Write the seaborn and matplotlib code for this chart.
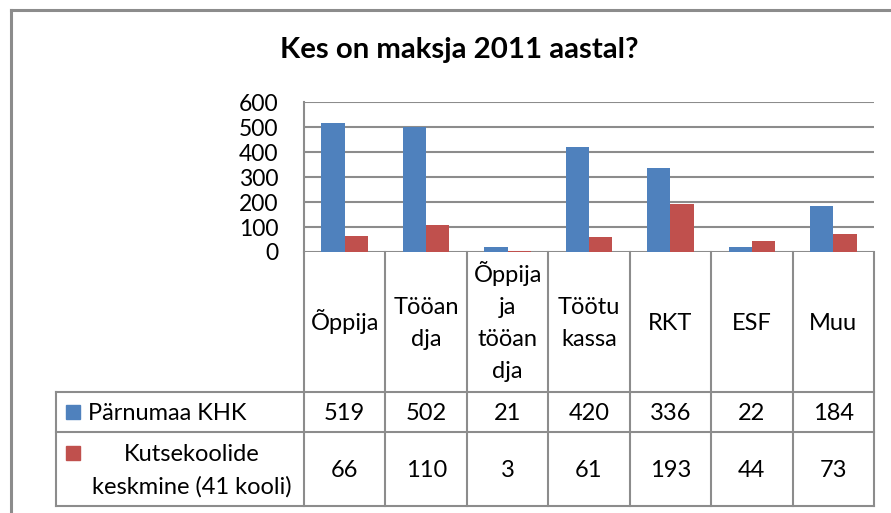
import matplotlib
matplotlib.use("Agg")
import matplotlib.pyplot as plt
import seaborn as sns
import pandas as pd
from matplotlib.lines import Line2D
from matplotlib.patches import Rectangle

# ---- data ----
categories = ["Õppija", "Tööandja", "Õppija ja tööandja", "Töötukassa", "RKT", "ESF", "Muu"]
category_labels = ["Õppija", "Tööan\ndja", "Õppija\nja\ntööan\ndja", "Töötu\nkassa", "RKT", "ESF", "Muu"]
series_names = ["Pärnumaa KHK", "Kutsekoolide keskmine (41 kooli)"]
series_labels = ["Pärnumaa KHK", "Kutsekoolide\nkeskmine (41 kooli)"]
parnumaa = [519, 502, 21, 420, 336, 22, 184]
keskmine = [66, 110, 3, 61, 193, 44, 73]
y_ticks = [0, 100, 200, 300, 400, 500, 600]
title = "Kes on maksja 2011 aastal?"

colors = ["#4F81BD", "#C0504D"]
grid_c = "#8C8C8C"
FONT = ["Lato", "DejaVu Sans"]
FS = 17

df = pd.DataFrame({
    "cat": categories * 2,
    "series": [series_names[0]] * len(categories) + [series_names[1]] * len(categories),
    "value": parnumaa + keskmine,
})

W, H = 891, 513
fig = plt.figure(figsize=(W / 100, H / 100), dpi=100)
plt.rcParams["font.family"] = FONT

def fx(x):
    return x / W

def fy(y):
    return 1 - y / H

# plot area in pixels
L, R, T, B = 304, 874, 102.5, 252
ax = fig.add_axes([fx(L), fy(B), fx(R - L), (B - T) / H])
sns.barplot(data=df, x="cat", y="value", hue="series", order=categories,
            hue_order=series_names, palette=colors, width=0.572, gap=0,
            saturation=1, ax=ax, legend=False, edgecolor="none")
ax.set_xlim(-0.5, len(categories) - 0.5)
ax.set_ylim(0, 600)
ax.set_yticks(y_ticks)
ax.set_yticklabels([str(v) for v in y_ticks], fontsize=16.5, family=FONT)
ax.tick_params(axis="y", length=0, pad=18.5)
ax.tick_params(axis="x", length=0, labelbottom=False)
ax.set_xlabel("")
ax.set_ylabel("")
for yv in y_ticks:
    ax.axhline(yv, color=grid_c, lw=1.5, zorder=0)
ax.set_axisbelow(True)
for s in ["top", "right", "bottom"]:
    ax.spines[s].set_visible(False)
ax.spines["left"].set_color(grid_c)
ax.spines["left"].set_linewidth(1.5)

# ---- data table ----
def hline(x0, x1, y, lw=1.5):
    fig.add_artist(Line2D([fx(x0), fx(x1)], [fy(y), fy(y)], color=grid_c, lw=lw))

def vline(x, y0, y1, lw=1.5):
    fig.add_artist(Line2D([fx(x), fx(x)], [fy(y0), fy(y1)], color=grid_c, lw=lw))

def block(x, yc, text, ha="center", step=32):
    lines = text.split("\n")
    n = len(lines)
    for k, ln in enumerate(lines):
        y = yc + (k - (n - 1) / 2) * step + 8
        fig.text(fx(x), fy(y), ln, ha=ha, va="baseline", fontsize=FS, family=FONT)

tbl_left = 56
row_y = [252, 392, 432, 506]
n = len(categories)
cw = (R - L) / n
col_x = [L + i * cw for i in range(n + 1)]

hline(tbl_left, R, row_y[1])
hline(tbl_left, R, row_y[2])
hline(tbl_left, R, row_y[3])
for i, x in enumerate(col_x):
    vline(x, row_y[0], row_y[3])
vline(tbl_left, row_y[1], row_y[3])

for i, lab in enumerate(category_labels):
    cx = (col_x[i] + col_x[i + 1]) / 2
    block(cx, 322, lab)
    block(cx, 412, str(parnumaa[i]))
    block(cx, 469, str(keskmine[i]))

# legend keys
fig.add_artist(Rectangle((fx(66), fy(419)), fx(14), 14 / H, color=colors[0],
                         transform=fig.transFigure))
fig.add_artist(Rectangle((fx(66), fy(460)), fx(14), 14 / H, color=colors[1],
                         transform=fig.transFigure))
block(88, 412, series_labels[0], ha="left")
block(191.5, 469, series_labels[1], step=32.3)

# chart border
hline(11, W + 5, 10, lw=2.2)
vline(11, 10, H + 5, lw=2.2)

fig.text(fx(459), fy(50), title, ha="center", va="center", fontsize=21.2,
         fontweight="bold", family=FONT)

fig.savefig("out.png", dpi=100)
